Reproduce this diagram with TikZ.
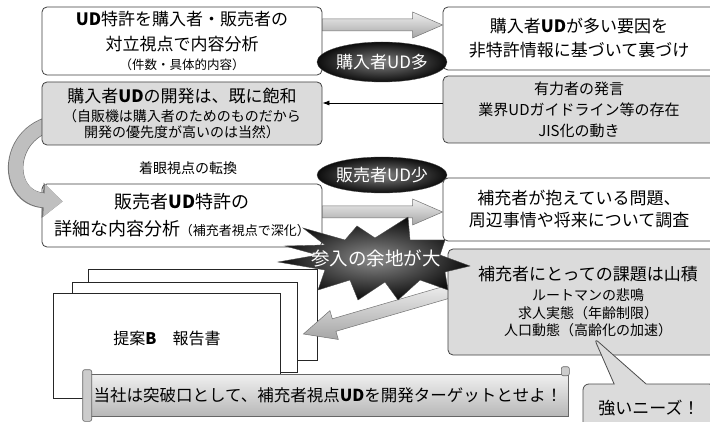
\documentclass[tikz,border=0pt]{standalone}
\usepackage{fontspec}
\setmainfont{Noto Sans CJK JP}
\usetikzlibrary{calc,shapes.geometric,shapes.callouts,arrows.meta}

% fat block arrow: #1 style, #2 start coord, #3 tip coord, #4 shaft half width, #5 head half width, #6 head length
\newcommand\fatarrow[6]{%
  \coordinate (fa-h) at ($(#3)!#6!(#2)$);
  \path[#1] ($(#2)!#4!90:(#3)$) -- ($(fa-h)!#4!90:(#3)$) -- ($(fa-h)!#5!90:(#3)$) -- (#3)
    -- ($(fa-h)!#5!-90:(#3)$) -- ($(fa-h)!#4!-90:(#3)$) -- ($(#2)!#4!-90:(#3)$) -- cycle;}

\begin{document}
\begin{tikzpicture}[x=1pt,y=-1pt,
  box/.style={draw=black!75, line width=0.8pt, rounded corners=5pt, align=center, inner sep=0pt, fill=white},
  graybox/.style={box, fill=black!14},
  bigarr/.style={draw=black!55, line width=0.5pt, top color=black!6, bottom color=black!35},
  darkoval/.style={ellipse, inner color=black!50, outer color=black!95, text=white, inner sep=0pt, draw=black!70, line width=0.3pt},
  sheet/.style={draw=black!85, line width=0.8pt, fill=white, rectangle, inner sep=0pt},
  burststyle/.style={inner color=black!45, outer color=black!95, draw=black!70, line width=0.4pt},
  rollstyle/.style={draw=black!60, line width=0.6pt, fill=black!20, rounded corners=2pt},
]
\useasboundingbox (0,0) rectangle (710,422);
\clip (0,0) rectangle (710,422);
\fill[white] (0,0) rectangle (710,422);

% top row
\node[box, minimum width=280, minimum height=68, font=\fontsize{17}{25}\selectfont] (A) at (182,41)
  {\textbf{UD}特許を購入者・販売者の\\対立視点で内容分析\\[-6pt]{\fontsize{12.5}{15}\selectfont （件数・具体的内容）}};
\node[box, minimum width=272, minimum height=63, font=\fontsize{17}{24}\selectfont] (D) at (579,38.5)
  {購入者\textbf{UD}が多い要因を\\非特許情報に基づいて裏づけ};
\coordinate (a2d-s) at (A.east |- 0,25);
\coordinate (a2d-t) at (D.west |- 0,25);
\fatarrow{bigarr}{a2d-s}{a2d-t}{6pt}{13pt}{30pt}
\node[darkoval, minimum width=120, minimum height=40, font=\fontsize{17}{20}\selectfont] (many) at (382,62) {購入者UD多};

% second box on the left, U-turn arrow, then first gray box
\node[box, minimum width=280, minimum height=63, font=\fontsize{18}{27}\selectfont] (C) at (182,215.5)
  {販売者\textbf{UD}特許の\\詳細な内容分析{\fontsize{13}{15}\selectfont （補充者視点で深化）}};
\coordinate (uS) at (60,122);
\coordinate (uT) at ($(C.west)+(21,-14)$);
\draw[line width=15.5pt, black!55, -{Triangle[length=20pt,width=34pt]}] (uS) .. controls (5,128) and (3,198) .. (uT);
\draw[line width=14pt, black!25, -{Triangle[length=18.5pt,width=31.5pt]}] (uS) .. controls (5,128) and (3,198) .. (uT);

\node[graybox, minimum width=280, minimum height=63, font=\fontsize{14}{16}\selectfont] (B) at (182,113.5)
  {{\fontsize{17}{20}\selectfont 購入者\textbf{UD}の開発は、既に飽和}\\[3pt]（自販機は購入者のためのものだから\\開発の優先度が高いのは当然）};
\node[graybox, minimum width=272, minimum height=67, font=\fontsize{15}{21}\selectfont] (E) at (579,109.5)
  {有力者の発言\\業界UDガイドライン等の存在\\JIS化の動き};
\draw[line width=0.8pt, black, -{Latex[length=7pt,width=5pt]}] (E.west |- 0,103) -- (B.east |- 0,103);

\node[font=\fontsize{14}{16}\selectfont] (turn) at (188,168) {着眼視点の転換};
\node[darkoval, minimum width=120, minimum height=36, font=\fontsize{17}{20}\selectfont] (few) at (382,175) {販売者UD少};

\node[box, minimum width=272, minimum height=63, font=\fontsize{17}{22}\selectfont] (F) at (579,209.5)
  {補充者が抱えている問題、\\周辺事情や将来について調査};
\coordinate (c2f-s) at (C.east |- 0,212);
\coordinate (c2f-t) at (F.west |- 0,212);
\fatarrow{bigarr}{c2f-s}{c2f-t}{6pt}{13pt}{30pt}

% report stack
\node[sheet, minimum width=229, minimum height=91] (back) at (202.5,314.5) {};
\node[sheet, minimum width=225, minimum height=90] (mid) at (184.5,327) {};
\node[sheet, minimum width=227, minimum height=105] (front) at (166.5,345.5) {};
\node[font=\fontsize{16}{18}\selectfont] (rtext) at (167,338) {提案\textbf{B}\hspace{16pt}報告書};

% arrow from the issues box to the report
\coordinate (g2r-s) at (458,289);
\coordinate (g2r-t) at ($(back.east)+(-14,19.5)$);
\fatarrow{bigarr}{g2r-s}{g2r-t}{6.5pt}{15pt}{32pt}

\node[graybox, minimum width=280, minimum height=106, font=\fontsize{14}{17.5}\selectfont] (G) at (588,302)
  {{\fontsize{17}{17.5}\selectfont 補充者にとっての課題は山積}\\[2.5pt]ルートマンの悲鳴\\求人実態（年齢制限）\\人口動態（高齢化の加速）};

% burst
\path[burststyle] (470,266) -- (445,272) -- (448,290) -- (420,280) -- (398,300) -- (385,282)
  -- (358,300) -- (350,280) -- (318,290) -- (325,270) -- (278,262) -- (318,255)
  -- (285,246) -- (325,245) -- (303,228) -- (345,240) -- (357,226) -- (375,238)
  -- (408,217) -- (410,240) -- (445,240) -- (440,255) -- cycle;
\node[text=white, font=\fontsize{18.5}{20}\selectfont] (burst) at (376,258) {参入の余地が大};

% scroll banner
\node[draw=black!60, line width=0.6pt, top color=black!6, bottom color=black!28, minimum width=480, minimum height=42,
  inner sep=0pt, font=\fontsize{16.5}{18}\selectfont] (scroll) at (328,395)
  {当社は突破口として、補充者視点\textbf{UD}を開発ターゲットとせよ！};
\draw[rollstyle] ($(scroll.north west)+(-5,-4)$) rectangle ($(scroll.south west)+(4,5)$);
\draw[rollstyle] ($(scroll.north east)+(-7,-7)$) rectangle ($(scroll.north east)+(1,2)$);

% callout
\node[rectangle callout, callout absolute pointer={(594,338)}, callout pointer width=32pt,
  draw=black!70, line width=0.8pt, fill=black!14, rounded corners=6pt, minimum width=132, minimum height=48,
  inner sep=0pt, font=\fontsize{17}{20}\selectfont] (need) at (649,408) {強いニーズ！};
\end{tikzpicture}
\end{document}
